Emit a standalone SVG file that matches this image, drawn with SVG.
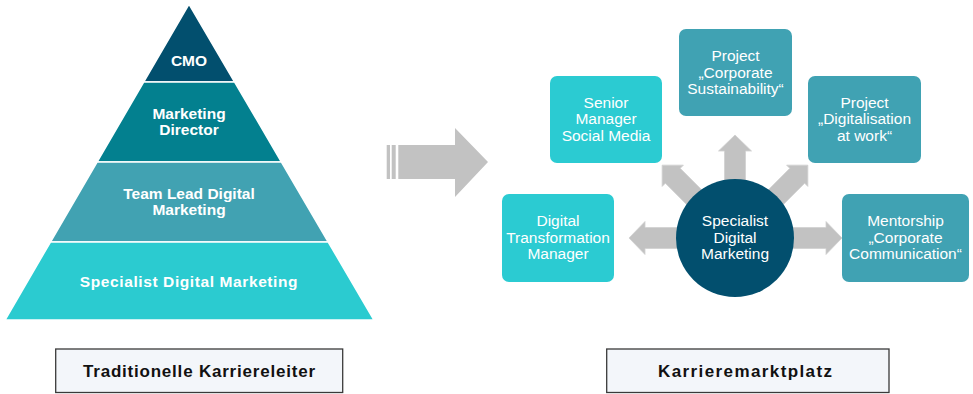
<svg xmlns="http://www.w3.org/2000/svg" width="973" height="394" viewBox="0 0 973 394">
<style>
.pt{font-family:"Liberation Sans",Arial,sans-serif;font-weight:bold;font-size:15.5px;fill:#fff;text-anchor:middle}
.bt{font-family:"Liberation Sans",Arial,sans-serif;font-size:15.5px;fill:#fff;text-anchor:middle}
.lt{font-family:"Liberation Sans",Arial,sans-serif;font-weight:bold;font-size:17px;fill:#111;text-anchor:middle}
.band{stroke:#fff;stroke-width:1.6}
.light{fill:#2bcbd2}
.mid{fill:#40a2b3}
.arr{fill:#c2c2c2;stroke:#d0d0d0;stroke-width:0.8}
.lbl{fill:#f3f6fa;stroke:#3a3a3a;stroke-width:1.3}
</style>
<rect width="973" height="394" fill="#fff"/>

<!-- Pyramid -->
<g id="pyr-cmo">
<polygon class="band" points="189,4 234.7,82 143.6,82" fill="#024f6e"/>
<text class="pt" x="189" y="66">CMO</text>
</g>
<g id="pyr-director">
<polygon class="band" points="143.6,82 234.7,82 281.5,162 97,162" fill="#03808f"/>
<text class="pt" x="189" y="119">Marketing</text>
<text class="pt" x="189" y="135">Director</text>
</g>
<g id="pyr-teamlead">
<polygon class="band" points="97,162 281.5,162 328.3,242 50.4,242" fill="#41a2b2"/>
<text class="pt" x="189" y="198.5">Team Lead Digital</text>
<text class="pt" x="189" y="214.5">Marketing</text>
</g>
<g id="pyr-specialist">
<polygon class="band" points="50.4,242 328.3,242 374,320 5,320" fill="#2bcbd0"/>
<text class="pt" x="189" y="287.3" letter-spacing="0.6">Specialist Digital Marketing</text>
</g>

<!-- Big transition arrow -->
<g id="big-arrow">
<rect x="386.7" y="145" width="3.3" height="34" fill="#c2c2c2"/>
<rect x="391.7" y="145" width="4" height="34" fill="#c2c2c2"/>
<path d="M398.3,145 H455 V128 L488,162 L455,197 V179 H398.3 Z" fill="#c2c2c2"/>
</g>

<!-- Connectors -->
<g id="connectors">
<path class="arr" transform="translate(735,238) rotate(180)" d="M0,-10.5 H90 V-16.5 L106,0 L90,16.5 V10.5 H0 Z"/>
<path class="arr" transform="translate(735,238)" d="M0,-10.5 H91 V-16.5 L107,0 L91,16.5 V10.5 H0 Z"/>
<path class="arr" transform="translate(735,238) rotate(-90)" d="M0,-10.5 H87 V-16.5 L103,0 L87,16.5 V10.5 H0 Z"/>
<path class="arr" transform="translate(735,238) rotate(-135)" d="M0,-10.5 H88 V-15 L103,0 L88,15 V10.5 H0 Z"/>
<path class="arr" transform="translate(735,238) rotate(-45)" d="M0,-10.5 H88 V-15 L103,0 L88,15 V10.5 H0 Z"/>
</g>

<!-- Centre node -->
<g id="center">
<circle cx="735" cy="238" r="59" fill="#024f6e"/>
<text class="bt" x="735" y="225.7">Specialist</text>
<text class="bt" x="735" y="242.5">Digital</text>
<text class="bt" x="735" y="259">Marketing</text>
</g>

<g id="senior-manager">
<rect class="light" x="550" y="76" width="112" height="87" rx="7"/>
<text class="bt" x="606" y="107.5">Senior</text>
<text class="bt" x="606" y="124">Manager</text>
<text class="bt" x="606" y="141">Social Media</text>
</g>

<g id="project-sustainability">
<rect class="mid" x="679" y="29" width="113" height="87" rx="7"/>
<text class="bt" x="735.5" y="60.7">Project</text>
<text class="bt" x="735.5" y="77.5">„Corporate</text>
<text class="bt" x="735.5" y="94">Sustainability“</text>
</g>

<g id="project-digitalisation">
<rect class="mid" x="808" y="76" width="113" height="87" rx="7"/>
<text class="bt" x="864.5" y="107.5">Project</text>
<text class="bt" x="864.5" y="124">„Digitalisation</text>
<text class="bt" x="864.5" y="141">at work“</text>
</g>

<g id="digital-transformation">
<rect class="light" x="502" y="194" width="112" height="88" rx="7"/>
<text class="bt" x="558" y="225.7">Digital</text>
<text class="bt" x="558" y="242.5">Transformation</text>
<text class="bt" x="558" y="259">Manager</text>
</g>

<g id="mentorship">
<rect class="mid" x="842" y="194" width="127" height="88" rx="7"/>
<text class="bt" x="905.5" y="225.7">Mentorship</text>
<text class="bt" x="905.5" y="242.5">„Corporate</text>
<text class="bt" x="905.5" y="259">Communication“</text>
</g>

<!-- Labels -->
<g id="label-left">
<rect class="lbl" x="55.7" y="349" width="287" height="43.5"/>
<text class="lt" x="199" y="376.5" textLength="232" lengthAdjust="spacing">Traditionelle Karriereleiter</text>
</g>
<g id="label-right">
<rect class="lbl" x="606.7" y="349" width="282.3" height="43.5"/>
<text class="lt" x="745" y="376.5" textLength="174" lengthAdjust="spacing">Karrieremarktplatz</text>
</g>
</svg>
